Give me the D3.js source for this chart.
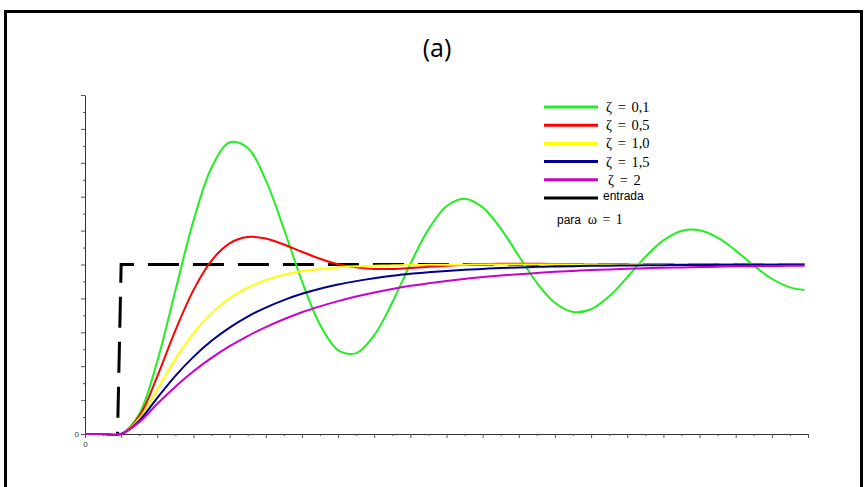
<!DOCTYPE html>
<html><head><meta charset="utf-8">
<script src="https://cdn.jsdelivr.net/npm/d3@7/dist/d3.min.js"></script>
<style>body{margin:0;background:#fff}svg{display:block}text{white-space:pre}</style>
</head><body>
<svg id="chart" width="867" height="487"></svg>
<script>
// ---- data ----
const time = [0,0.5,1,1.5,2,2.5,3,3.5,4,4.5,5,5.5,6,6.5,7,7.5,8,8.5,9,9.5,10,
  10.5,11,11.5,12,12.5,13,13.5,14,14.5,15,15.5,16,16.5,17,17.5,18,18.5,19,19.5,19.9];
const zeta01 = [0,0,0,0.118,0.431,0.846,1.258,1.571,1.720,1.688,1.498,1.211,0.902,0.645,0.495,0.477,
  0.583,0.776,1.003,1.207,1.344,1.388,1.337,1.212,1.050,0.892,0.774,0.720,0.736,0.812,0.925,1.045,
  1.142,1.198,1.202,1.158,1.082,0.994,0.916,0.865,0.850];
const zeta05 = [0,0,0,0.104,0.340,0.611,0.849,1.023,1.125,1.162,1.153,1.118,1.075,1.034,1.002,0.983,
  0.974,0.974,0.979,0.986,0.993,0.998,1.002,1.004,1.004,1.004,1.003,1.001,1,1,1,1,1,1,1,1,1,1,1,1,1];
const zeta10 = [0,0,0,0.090,0.264,0.442,0.594,0.713,0.801,0.864,0.908,0.939,0.960,0.973,0.983,0.989,
  0.993,0.995,0.997,0.998,0.999,0.999,1,1,1,1,1,1,1,1,1,1,1,1,1,1,1,1,1,1,1];
const zeta15 = [0,0,0,0.079,0.213,0.343,0.455,0.550,0.628,0.693,0.746,0.790,0.827,0.857,0.882,0.902,
  0.919,0.933,0.945,0.954,0.962,0.969,0.974,0.979,0.982,0.986,0.988,0.990,0.992,0.993,0.994,0.995,
  0.996,0.997,0.997,0.998,0.998,0.999,0.999,0.999,0.999];
const zeta20 = [0,0,0,0.070,0.178,0.279,0.370,0.449,0.518,0.578,0.631,0.677,0.718,0.753,0.784,0.811,
  0.835,0.856,0.874,0.889,0.903,0.915,0.926,0.935,0.943,0.950,0.957,0.962,0.967,0.971,0.975,0.978,
  0.981,0.983,0.985,0.987,0.989,0.990,0.991,0.992,0.993];
const inputTime = [0.9, 1.0, 19.9];
const inputValue = [0, 1, 1];
const seriesLabels = ["ζ = 0,1","ζ = 0,5","ζ = 1,0","ζ = 1,5","ζ = 2"];
const seriesColors = ["#22ee22","#ff0000","#ffff00","#000090","#cc00cc"];
const inputLabel = "entrada";
const noteLabel = ["para", "ω = 1"];
const title = "(a)";
const xTicks = d3.range(0, 20.001, 0.5);
const yTicks = d3.range(0, 2.001, 0.1);

// ---- drawing ----
const svg = d3.select("#chart");
const x = d3.scaleLinear().domain([0, 20]).range([85, 808]);
const y = d3.scaleLinear().domain([0, 2]).range([434, 95]);

// frame
svg.append("path").attr("d", "M5.5,487 V11.5 H861.5 V487")
  .attr("fill", "none").attr("stroke", "#000").attr("stroke-width", 3);

svg.append("text").attr("x", 437).attr("y", 57).attr("text-anchor", "middle")
  .attr("font-family", "Open Sans, Noto Sans, sans-serif").attr("font-size", 25)
  .attr("fill", "#000").text(title);

// axes
const isMajor = (v, step) => Math.abs(Math.round(v / step) * step - v) < 1e-6;
const xAxis = d3.axisBottom(x).tickValues(xTicks).tickSizeOuter(0)
  .tickFormat(d => d === 0 ? "0" : "");
const gx = svg.append("g").attr("transform", `translate(0,${y(0)})`).call(xAxis);
gx.select(".domain").attr("stroke", "#333");
gx.selectAll(".tick line").attr("stroke", "#555")
  .attr("y2", d => isMajor(d, 1) ? 4 : 2);
gx.selectAll(".tick text").attr("font-family", "Liberation Sans, Arial, sans-serif")
  .attr("font-size", 8).attr("fill", "#333").attr("dy", "0.71em").attr("y", 7);

const yAxis = d3.axisLeft(y).tickValues(yTicks).tickSizeOuter(0)
  .tickFormat(d => d === 0 ? "0" : "");
const gy = svg.append("g").attr("transform", `translate(${x(0)},0)`).call(yAxis);
gy.select(".domain").attr("stroke", "#333");
gy.selectAll(".tick line").attr("stroke", "#555")
  .attr("x2", d => isMajor(d, 0.2) ? -4 : -2);
gy.selectAll(".tick text").attr("font-family", "Liberation Sans, Arial, sans-serif")
  .attr("font-size", 8).attr("fill", "#333").attr("x", -6);

// input (dashed)
const line = d3.line().x(d => x(d[0])).y(d => y(d[1])).curve(d3.curveLinear);
svg.append("path")
  .datum(inputTime.map((t, i) => [t, inputValue[i]]))
  .attr("d", line)
  .attr("fill", "none").attr("stroke", "#000").attr("stroke-width", 3)
  .attr("stroke-dasharray", "31,14").attr("stroke-dashoffset", 28.7);

// responses
const smooth = d3.line().x(d => x(d[0])).y(d => y(d[1])).curve(d3.curveCatmullRom.alpha(0.5));
const series = [zeta01, zeta05, zeta10, zeta15, zeta20];
series.forEach((vals, k) => {
  svg.append("path")
    .datum(time.map((t, i) => [t, vals[i]]))
    .attr("d", smooth)
    .attr("fill", "none").attr("stroke", seriesColors[k]).attr("stroke-width", 2)
    .attr("stroke-linejoin", "round");
});

// legend
const lg = svg.append("g");
const ly0 = 107, ldy = 18.2;
seriesLabels.forEach((lab, k) => {
  const yy = ly0 + k * ldy;
  lg.append("line").attr("x1", 544).attr("x2", 598).attr("y1", yy).attr("y2", yy)
    .attr("stroke", seriesColors[k]).attr("stroke-width", 3);
  lg.append("text").attr("x", k === 4 ? 608 : 606).attr("y", yy + 5)
    .attr("font-family", "Liberation Serif, Times New Roman, serif").attr("font-size", 14.5)
    .attr("word-spacing", 2)
    .attr("fill", "#000").text(lab);
});
const ey = ly0 + 5 * ldy;
lg.append("line").attr("x1", 544).attr("x2", 598).attr("y1", ey).attr("y2", ey)
  .attr("stroke", "#000").attr("stroke-width", 3);
lg.append("text").attr("x", 603).attr("y", ey + 2)
  .attr("font-family", "Liberation Sans, Arial, sans-serif").attr("font-size", 12)
  .attr("fill", "#000").text(inputLabel);
const nt = lg.append("text").attr("x", 557).attr("y", 224).attr("fill", "#000");
nt.append("tspan").attr("font-family", "Liberation Sans, Arial, sans-serif")
  .attr("font-size", 12).text(noteLabel[0] + "  ");
nt.append("tspan").attr("font-family", "Liberation Serif, Times New Roman, serif")
  .attr("font-size", 14).attr("word-spacing", 2).text(noteLabel[1]);
</script>
</body></html>
